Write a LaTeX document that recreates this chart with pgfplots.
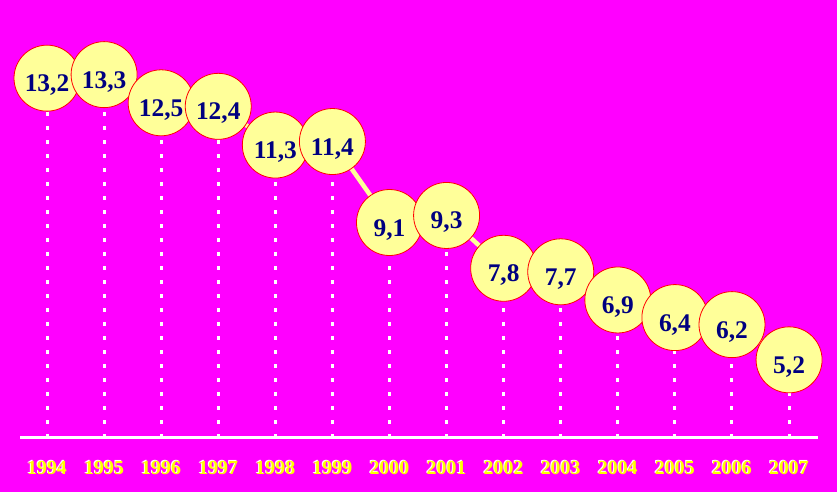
\documentclass[border=0pt]{standalone}
\usepackage{pgfplots}
\pgfplotsset{compat=1.18}
\usepackage{fontspec}
\setmainfont{Liberation Serif}
\definecolor{bg}{RGB}{255,0,255}
\definecolor{ball}{RGB}{255,255,153}
\definecolor{numblue}{RGB}{0,0,128}
\definecolor{yearyellow}{RGB}{255,255,0}

\begin{document}
\begin{tikzpicture}[x=1bp,y=1bp]
\fill[bg] (0,0) rectangle (837,492);
\begin{axis}[
    at={(20bp,54bp)}, anchor=south west,
    scale only axis, width=798bp, height=438bp,
    xmin=1993.527, xmax=2007.507,
    ymin=2.98, ymax=15.42,
    axis x line*=bottom, hide y axis,
    x axis line style={white, line width=3bp, -},
    /pgf/number format/assume math mode=true,
    xtick={1994,...,2007}, major tick length=0pt,
    xticklabel={\rlap{\hspace{-1bp}\raisebox{1bp}{\color{white}\pgfmathprintnumber[1000 sep=]{\tick}}}\pgfmathprintnumber[1000 sep=]{\tick}},
    xticklabel style={anchor=north, inner sep=0pt, yshift=-22bp,
        font=\fontsize{20}{20}\selectfont\bfseries, text=yearyellow},
    clip=true,
]
% connecting line
\addplot[ball, line width=4.5bp, no marks] coordinates {
    (1994,13.2) (1995,13.3) (1996,12.5) (1997,12.4) (1998,11.3) (1999,11.4) (2000,9.1)
    (2001,9.3) (2002,7.8) (2003,7.7) (2004,6.9) (2005,6.4) (2006,6.2) (2007,5.2)
};
% dotted drop lines
\addplot[ycomb, white, line width=3bp, dash pattern=on 4bp off 10bp, no marks] coordinates {
    (1994,13.2) (1995,13.3) (1996,12.5) (1997,12.4) (1998,11.3) (1999,11.4) (2000,9.1)
    (2001,9.3) (2002,7.8) (2003,7.7) (2004,6.9) (2005,6.4) (2006,6.2) (2007,5.2)
};
% balls with values
\addplot[only marks, mark=*, mark size=33bp,
    mark options={fill=ball, draw=red, line width=0.8bp},
    point meta=y,
    nodes near coords={\pgfmathprintnumber[fixed,fixed zerofill,precision=1,use comma]{\pgfplotspointmeta}},
    every node near coord/.append style={anchor=base, yshift=-13.5bp,
        font=\fontsize{25.5}{25.5}\selectfont\bfseries, text=numblue},
] coordinates {
    (1994,13.2) (1995,13.3) (1996,12.5) (1997,12.4) (1998,11.3) (1999,11.4) (2000,9.1)
    (2001,9.3) (2002,7.8) (2003,7.7) (2004,6.9) (2005,6.4) (2006,6.2) (2007,5.2)
};
\end{axis}
\end{tikzpicture}
\end{document}
